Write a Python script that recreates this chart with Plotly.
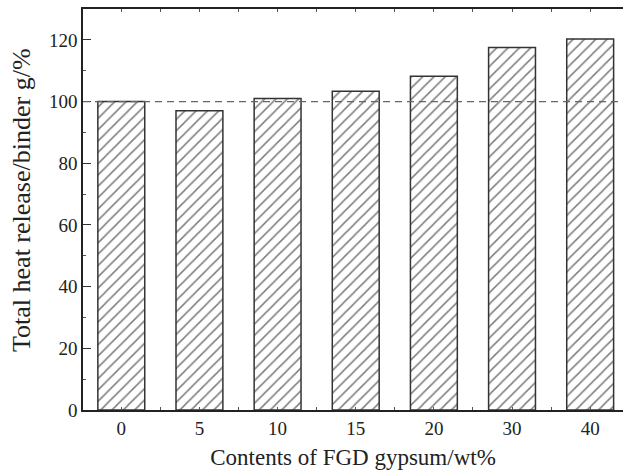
import plotly.graph_objects as go

categories = ["0", "5", "10", "15", "20", "30", "40"]
heat_release = [100.0, 97.0, 101.0, 103.3, 108.2, 117.5, 120.3]
reference_level = 100
y_tick_values = [0, 20, 40, 60, 80, 100, 120]

x_pos = list(range(len(categories)))

fig = go.Figure()
fig.add_trace(go.Bar(
    x=x_pos,
    y=heat_release,
    width=0.6,
    marker=dict(
        color="white",
        line=dict(color="#333333", width=1.5),
        pattern=dict(shape="/", size=8, solidity=0.19, fgcolor="#000000", bgcolor="white"),
    ),
    showlegend=False,
    hoverinfo="skip",
))

fig.add_shape(
    type="line", xref="paper", yref="y",
    x0=0, x1=1, y0=reference_level, y1=reference_level,
    line=dict(color="#666666", width=1.3, dash="7px,5px"),
    layer="above",
)

font_family = "Liberation Serif, Times New Roman, serif"

fig.add_annotation(
    text="Total heat release/binder g/%",
    xref="paper", yref="paper",
    x=(21 - 83) / 540, y=(410 - 200) / 401,
    xanchor="center", yanchor="middle",
    textangle=-90, showarrow=False,
    font=dict(size=26, family=font_family, color="#222222"),
)

fig.update_layout(
    width=623, height=475,
    margin=dict(l=83, r=0, t=9, b=65),
    paper_bgcolor="white", plot_bgcolor="white",
    font=dict(family=font_family, color="#222222", size=19),
    bargap=0.4,
)

fig.update_xaxes(
    range=[-0.49, 6.42],
    tickmode="array", tickvals=x_pos, ticktext=categories,
    ticks="inside", ticklen=3, tickcolor="#555555",
    showline=True, linecolor="#222222", linewidth=1.5,
    mirror="ticks",
    showgrid=False, zeroline=False,
    tickfont=dict(size=19, family=font_family, color="#222222"),
    minor=dict(tickvals=[i - 0.5 for i in range(len(categories) + 1)],
               ticks="inside", ticklen=3, tickcolor="#555555"),
    title=dict(text="Contents of FGD gypsum/wt%", font=dict(size=23, family=font_family, color="#222222"), standoff=11),
)

fig.update_yaxes(
    range=[0, 130],
    tickmode="array", tickvals=y_tick_values,
    ticks="inside", ticklen=8, tickcolor="#333333",
    showline=True, linecolor="#222222", linewidth=1.5,
    mirror=False,
    showgrid=False, zeroline=False,
    tickfont=dict(size=19, family=font_family, color="#222222"),
    minor=dict(tickvals=[10, 30, 50, 70, 90, 110, 130], ticks="inside", ticklen=3, tickcolor="#555555"),
)

fig.write_html("out.html", config={"displayModeBar": False})

with open("out.html", "r", encoding="utf-8") as f:
    html = f.read()
html = html.replace("<head>", "<head><style>html,body{margin:0;padding:0;overflow:hidden;}</style>", 1)
with open("out.html", "w", encoding="utf-8") as f:
    f.write(html)
